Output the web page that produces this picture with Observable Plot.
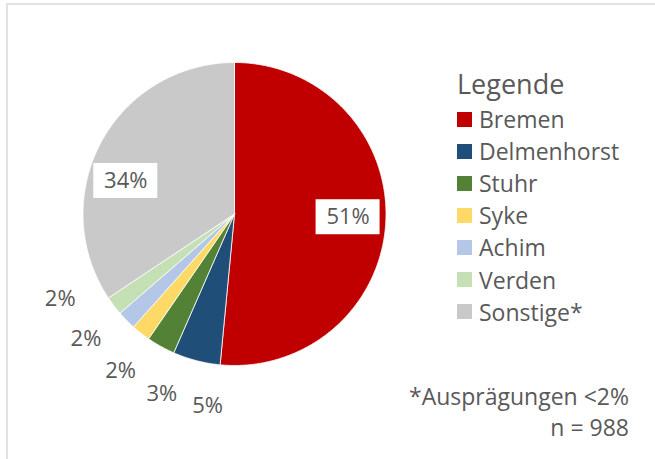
<!DOCTYPE html>
<html>
<head>
<meta charset="utf-8">
<script src="https://cdn.jsdelivr.net/npm/d3@7"></script>
<script src="https://cdn.jsdelivr.net/npm/@observablehq/plot@0.6"></script>
<style>
  html, body { margin: 0; padding: 0; background: #fff; }
  #wrap { position: relative; width: 655px; height: 459px; overflow: hidden; font-family: "Open Sans", sans-serif; color: #595959; }
  #wrap svg { position: absolute; left: 0; top: 0; }
  .frame-top { position: absolute; left: 6px; top: 3px; width: 649px; height: 2px; background: #e2e2e2; }
  .frame-left { position: absolute; left: 6px; top: 3px; width: 2px; height: 456px; background: #e2e2e2; }
  #legend { position: absolute; left: 457px; top: 66px; }
  #legend .title { font-size: 27px; line-height: 36px; margin-bottom: 1px; }
  #legend .item { display: flex; align-items: center; height: 32.1px; font-size: 23px; }
  #legend .sw { width: 15px; height: 15px; margin-right: 7px; }
  #note { position: absolute; right: 26px; top: 381px; text-align: right; font-size: 23px; line-height: 31px; }
</style>
</head>
<body>
<div id="wrap"></div>
<script>
const names = ["Bremen", "Delmenhorst", "Stuhr", "Syke", "Achim", "Verden", "Sonstige*"];
const values = [51, 5, 3, 2, 2, 2, 34];
const colors = ["#C00000", "#1F4E79", "#538135", "#FFD966", "#B4C7E7", "#C5E0B4", "#C9C9C9"];
const labels = ["51%", "5%", "3%", "2%", "2%", "2%", "34%"];
const legendTitle = "Legende";
const noteLines = ["*Ausprägungen <2%", "n = 988"];

// angles: clockwise from 12 o'clock
const arcs = d3.pie().sort(null).value(d => d)(values);
const pts = [];
arcs.forEach((a, i) => {
  pts.push({name: names[i], x: 0, y: 0});
  const n = Math.max(2, Math.ceil((a.endAngle - a.startAngle) / 0.01));
  for (let k = 0; k <= n; k++) {
    const t = a.startAngle + (a.endAngle - a.startAngle) * k / n;
    pts.push({name: names[i], x: Math.sin(t), y: Math.cos(t)});
  }
  pts.push({name: names[i], x: 0, y: 0});
});

// label placement
const mid = arcs.map(a => (a.startAngle + a.endAngle) / 2);
const inside = [], outside = [];
arcs.forEach((a, i) => {
  const frac = values[i] / d3.sum(values);
  if (frac > 0.1) inside.push(i); else outside.push(i);
});
// inside labels: pulled toward the horizontal ("best fit")
const insideLabels = inside.map(i => {
  const h = mid[i] < Math.PI ? Math.PI / 2 : 3 * Math.PI / 2;
  const ang = h + 0.6 * (mid[i] - h);
  return {label: labels[i], x: 0.75 * Math.sin(ang), y: 0.75 * Math.cos(ang)};
});
// spread small-slice labels evenly around their mean angle
const meanA = d3.mean(outside, i => mid[i]);
const step = 14 * Math.PI / 180;
const outsideLabels = outside.map((i, k) => {
  const ang = meanA + (k - (outside.length - 1) / 2) * step;
  return {label: labels[i], x: 1.28 * Math.sin(ang), y: 1.28 * Math.cos(ang)};
});

const cx = 234, cy = 213.5, R = 151.5;
const bw = 64 / R / 2, bh = 35 / R / 2;

const chart = Plot.plot({
  width: 655,
  height: 459,
  margin: 0,
  x: {domain: [-1, 1], range: [cx - R, cx + R], axis: null},
  y: {domain: [-1, 1], range: [cy + R, cy - R], axis: null},
  color: {domain: names, range: colors},
  style: {fontFamily: "'Open Sans', sans-serif", background: "transparent"},
  marks: [
    Plot.line(pts, {x: "x", y: "y", z: "name", fill: "name", stroke: "white", strokeWidth: 0.8, curve: "linear"}),
    Plot.rect(insideLabels, {x1: d => d.x - bw, x2: d => d.x + bw, y1: d => d.y - bh, y2: d => d.y + bh, fill: "white"}),
    Plot.text(insideLabels, {x: "x", y: "y", text: "label", fontSize: 22, fill: "#595959"}),
    Plot.text(outsideLabels, {x: "x", y: "y", text: "label", fontSize: 22, fill: "#595959"})
  ]
});

const wrap = document.getElementById("wrap");
wrap.appendChild(chart);
const ft = document.createElement("div"); ft.className = "frame-top"; wrap.appendChild(ft);
const fl = document.createElement("div"); fl.className = "frame-left"; wrap.appendChild(fl);

const legend = document.createElement("div");
legend.id = "legend";
legend.innerHTML = `<div class="title">${legendTitle}</div>` +
  names.map((n, i) => `<div class="item"><div class="sw" style="background:${colors[i]}"></div><span>${n}</span></div>`).join("");
wrap.appendChild(legend);

const note = document.createElement("div");
note.id = "note";
note.innerHTML = noteLines.map(l => `<div>${l}</div>`).join("");
wrap.appendChild(note);
</script>
</body>
</html>
